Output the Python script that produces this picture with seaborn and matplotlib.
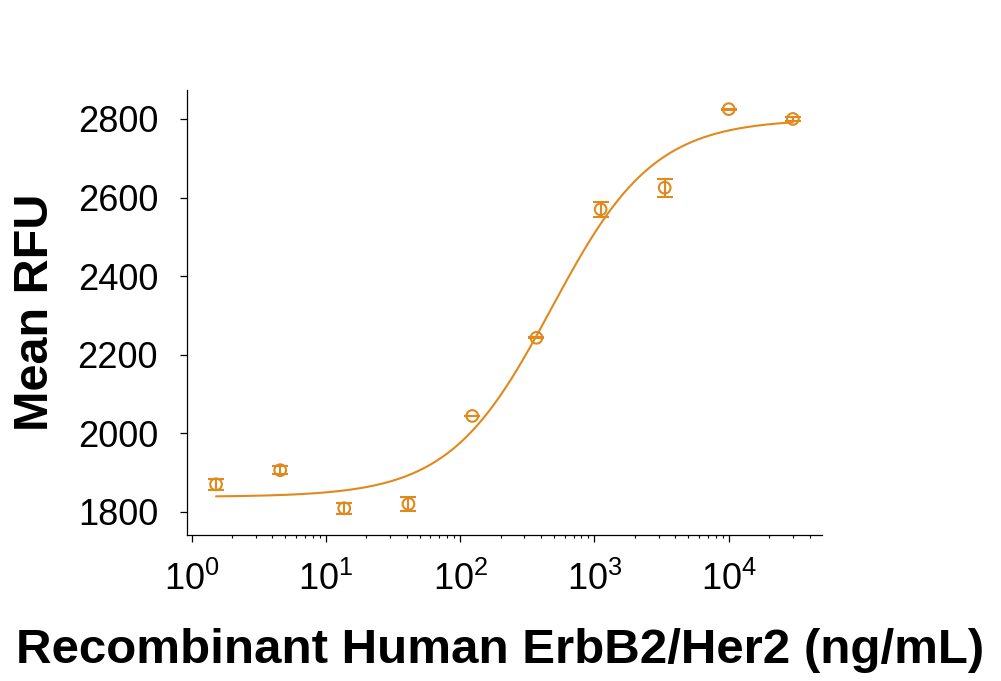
import numpy as np
import pandas as pd
import matplotlib
matplotlib.use('Agg')
import matplotlib.pyplot as plt
import matplotlib.ticker as mticker
import seaborn as sns

# dados (diluição 1:3)
concentracao = [1.52, 4.57, 13.7, 41.2, 123, 370, 1111, 3333, 10000, 30000]
rfu_media = [1870, 1906, 1809, 1820, 2044, 2243, 2570, 2625, 2825, 2800]
rfu_erro = [14, 10, 14, 18, 1, 1, 19, 23, 1, 6]

# parâmetros do ajuste 4PL
fundo = 1838
topo = 2800
ec50 = 480
hill = 1.14

cor = '#E0891C'

df = pd.DataFrame({'conc': concentracao, 'rfu': rfu_media, 'erro': rfu_erro})

x_curva = np.logspace(np.log10(1.52), np.log10(30000), 300)
df_curva = pd.DataFrame({'conc': x_curva,
                         'rfu': fundo + (topo - fundo) / (1 + (ec50 / x_curva) ** hill)})

sns.set_style('ticks')
plt.rcParams['font.family'] = ['Liberation Sans', 'DejaVu Sans']
plt.rcParams['mathtext.fontset'] = 'custom'
plt.rcParams['mathtext.rm'] = 'Liberation Sans'
plt.rcParams['mathtext.it'] = 'Liberation Sans:italic'
plt.rcParams['mathtext.bf'] = 'Liberation Sans:bold'
plt.rcParams['text.color'] = 'black'
plt.rcParams['axes.labelcolor'] = 'black'

fig = plt.figure(figsize=(10.01, 6.81), dpi=100)
ax = fig.add_axes([0.187, 0.2144, 0.634, 0.6536])

sns.lineplot(data=df_curva, x='conc', y='rfu', color=cor, linewidth=1.5, ax=ax)
ax.errorbar(df['conc'], df['rfu'], yerr=df['erro'], fmt='none', ecolor=cor,
            elinewidth=1.5, capsize=6, capthick=1.5)
sns.scatterplot(data=df, x='conc', y='rfu', marker='o', s=70, facecolor='none',
                edgecolor=cor, linewidth=1.5, ax=ax, zorder=3)

ax.set_xscale('log')
ax.set_yticks([1800, 2000, 2200, 2400, 2600, 2800])
ax.xaxis.set_minor_locator(mticker.LogLocator(base=10, subs=np.arange(2, 10), numticks=20))
ax.xaxis.set_minor_formatter(mticker.NullFormatter())
ax.set_xticks([1, 10, 100, 1000, 10000])
ax.set_xticklabels([r'$10^{0}$', r'$10^{1}$', r'$10^{2}$', r'$10^{3}$', r'$10^{4}$'])
ax.set_xlim(0.927, 49300)
ax.set_ylim(1741, 2874)

for lado in ['top', 'right']:
    ax.spines[lado].set_visible(False)
for lado in ['left', 'bottom']:
    ax.spines[lado].set_linewidth(0.9)
    ax.spines[lado].set_color('black')

ax.tick_params(axis='both', which='major', direction='out', length=5, width=0.9,
               labelsize=26, color='black', labelcolor='black')
ax.tick_params(axis='y', pad=16)
ax.tick_params(axis='x', which='major', pad=14)
ax.tick_params(axis='x', which='minor', direction='out', length=2.5, width=0.8, color='black')

ax.set_xlabel('Recombinant Human ErbB2/Her2 (ng/mL)', fontsize=35.5, fontweight='bold',
              color='black')
ax.set_ylabel('Mean RFU', fontsize=35, fontweight='bold', color='black')
ax.xaxis.set_label_coords(0.493, -0.21)
ax.yaxis.set_label_coords(-0.203, 0.5)

fig.savefig('out.png', dpi=100)
